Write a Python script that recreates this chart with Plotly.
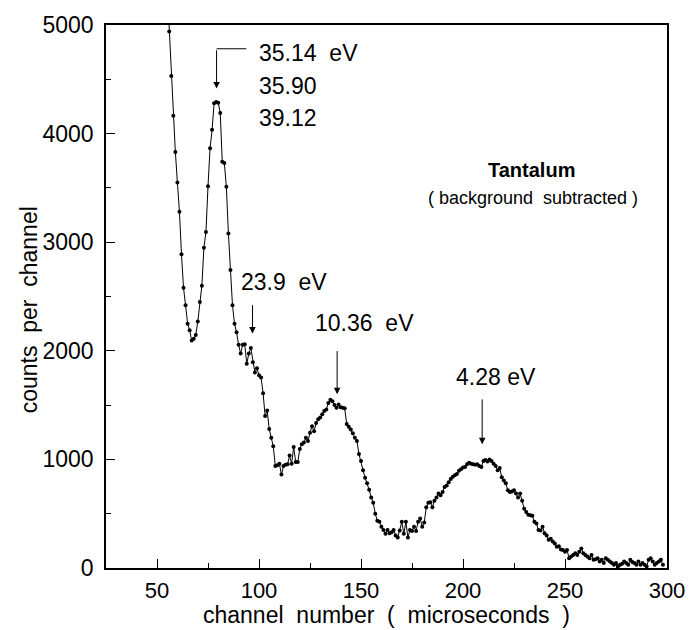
import plotly.graph_objects as go

# ---- data ----
channels = list(range(55, 299))
counts = [
    5350, 4940, 4530, 4165, 3830, 3550, 3280, 2890, 2580, 2420,   # 55-64
    2250, 2190, 2095, 2110, 2145, 2270, 2450, 2600, 2950, 3095,   # 65-74
    3515, 3865, 4035, 4280, 4290, 4285, 4190, 3740, 3730, 3510,   # 75-84
    3080, 2745, 2420, 2250, 2170, 2055, 1975, 2055, 2060, 1880,   # 85-94
    1975, 2025, 1895, 1800, 1840, 1775, 1755, 1610, 1400, 1450,   # 95-104
    1280, 1200, 1120, 940, 945, 960, 860, 940, 950, 955,          # 105-114
    1035, 960, 1115, 975, 975, 1095, 1140, 1155, 1200, 1170,      # 115-124
    1245, 1305, 1260, 1335, 1370, 1385, 1415, 1445, 1460, 1520,   # 125-134
    1550, 1535, 1500, 1475, 1505, 1480, 1475, 1470, 1325, 1300,   # 135-144
    1275, 1240, 1200, 1170, 1050, 985, 900, 830, 780, 720,        # 145-154
    650, 600, 500, 435, 425, 380, 350, 315, 350, 320,             # 155-164
    330, 350, 300, 280, 345, 425, 315, 425, 280, 350,             # 165-174
    340, 380, 340, 425, 455, 380, 420, 560, 600, 605,             # 175-184
    560, 620, 650, 685, 670, 700, 745, 760, 790, 820,             # 185-194
    840, 855, 865, 895, 910, 925, 930, 955, 970, 960,             # 195-204
    955, 950, 955, 940, 930, 985, 995, 980, 1000, 985,            # 205-214
    960, 940, 900, 920, 835, 805, 780, 715, 700, 705,             # 215-224
    715, 685, 650, 685, 620, 545, 515, 490, 485, 480,             # 225-234
    425, 410, 350, 345, 380, 320, 300, 260, 270, 245,             # 235-244
    225, 195, 200, 170, 165, 150, 165, 90, 105, 120,              # 245-254
    135, 120, 150, 180, 135, 120, 105, 90, 120, 75,               # 255-264
    80, 90, 60, 75, 45, 90, 75, 60, 45, 30,                       # 265-274
    45, 15, 30, 40, 60, 45, 30, 75, 55, 45,                       # 275-284
    30, 60, 30, 45, 30, 15, 75, 90, 60, 30,                       # 285-294
    45, 60, 75, 30,                                               # 295-298
]
assert len(counts) == len(channels)

x_ticks = [50, 100, 150, 200, 250, 300]
y_ticks = [0, 1000, 2000, 3000, 4000, 5000]

# resonance labels: (text, x, y) and arrows: (x, y_top, y_tip)
peak_labels = ["35.14  eV", "35.90", "39.12", "23.9  eV", "10.36  eV", "4.28 eV"]
peak_label_x = [99.0, 99.0, 99.0, 90.2, 126.7, 195.5]
peak_label_y = [4744, 4438, 4145, 2637, 2258, 1755]
arrow_x = [79.2, 96.8, 138.3, 209.4]
arrow_top = [4781, 2434, 2011, 1566]
arrow_tip = [4415, 2160, 1600, 1140]

FONT = "Liberation Sans, Arial, Helvetica, sans-serif"

fig = go.Figure()
fig.add_trace(go.Scatter(
    x=channels, y=counts, mode="lines+markers",
    line=dict(color="black", width=1),
    marker=dict(color="black", size=4),
    showlegend=False, cliponaxis=True,
))

annotations = []
for t, xx, yy in zip(peak_labels, peak_label_x, peak_label_y):
    annotations.append(dict(x=xx, y=yy, xref="x", yref="y", text=t, showarrow=False,
                            xanchor="left", yanchor="middle",
                            font=dict(family=FONT, size=23, color="black")))
for xx, yt, yp in zip(arrow_x, arrow_top, arrow_tip):
    annotations.append(dict(x=xx, y=yp, ax=xx, ay=yt, xref="x", yref="y",
                            axref="x", ayref="y", text="", showarrow=True,
                            arrowhead=2, arrowsize=1.3, arrowwidth=1,
                            arrowcolor="black", standoff=0, startstandoff=0))
annotations.append(dict(x=233.7, y=3665, xref="x", yref="y", text="<b>Tantalum</b>",
                        showarrow=False, xanchor="center", yanchor="middle",
                        font=dict(family=FONT, size=20, color="black")))
annotations.append(dict(x=234.2, y=3410, xref="x", yref="y",
                        text="( background  subtracted )",
                        showarrow=False, xanchor="center", yanchor="middle",
                        font=dict(family=FONT, size=18, color="black")))
annotations.append(dict(x=0.5, y=-0.0870, xref="paper", yref="paper",
                        text="channel  number  (  microseconds  )", showarrow=False,
                        xanchor="center", yanchor="middle", borderpad=0,
                        font=dict(family=FONT, size=23, color="black")))
annotations.append(dict(x=-0.1376, y=0.476, xref="paper", yref="paper",
                        text="counts  per  channel", showarrow=False, textangle=-90,
                        xanchor="center", yanchor="middle",
                        font=dict(family=FONT, size=23, color="black")))

shapes = [dict(type="line", xref="x", yref="y", x0=arrow_x[0], x1=93.8,
               y0=arrow_top[0], y1=arrow_top[0], line=dict(color="black", width=1))]

fig.update_layout(
    width=697, height=630,
    margin=dict(l=106, r=24, t=20, b=62),
    paper_bgcolor="white", plot_bgcolor="white",
    font=dict(family=FONT, size=22, color="black"),
    annotations=annotations, shapes=shapes,
    xaxis=dict(range=[25, 300], tickvals=x_ticks, ticks="inside", ticklen=9,
               tickwidth=1.2, tickcolor="black", showline=True, linecolor="black",
               linewidth=1.5, mirror=True, showgrid=False, zeroline=False,
               ticklabelstandoff=2,
               tickfont=dict(family=FONT, size=22, color="black"),
               minor=dict(ticks="inside", ticklen=5, dtick=25, tick0=0,
                          tickcolor="black", showgrid=False)),
    yaxis=dict(range=[0, 5000], tickvals=y_ticks, ticks="inside", ticklen=9,
               tickwidth=1.2, tickcolor="black", showline=True, linecolor="black",
               linewidth=1.5, mirror=True, showgrid=False, zeroline=False,
               ticklabelstandoff=6,
               tickfont=dict(family=FONT, size=23, color="black"),
               minor=dict(ticks="inside", ticklen=5, dtick=500, tick0=0,
                          tickcolor="black", showgrid=False)),
)

fig.write_html("out.html", config={"displayModeBar": False},
               post_script="document.body.style.margin='0';document.body.style.overflow='hidden';")
